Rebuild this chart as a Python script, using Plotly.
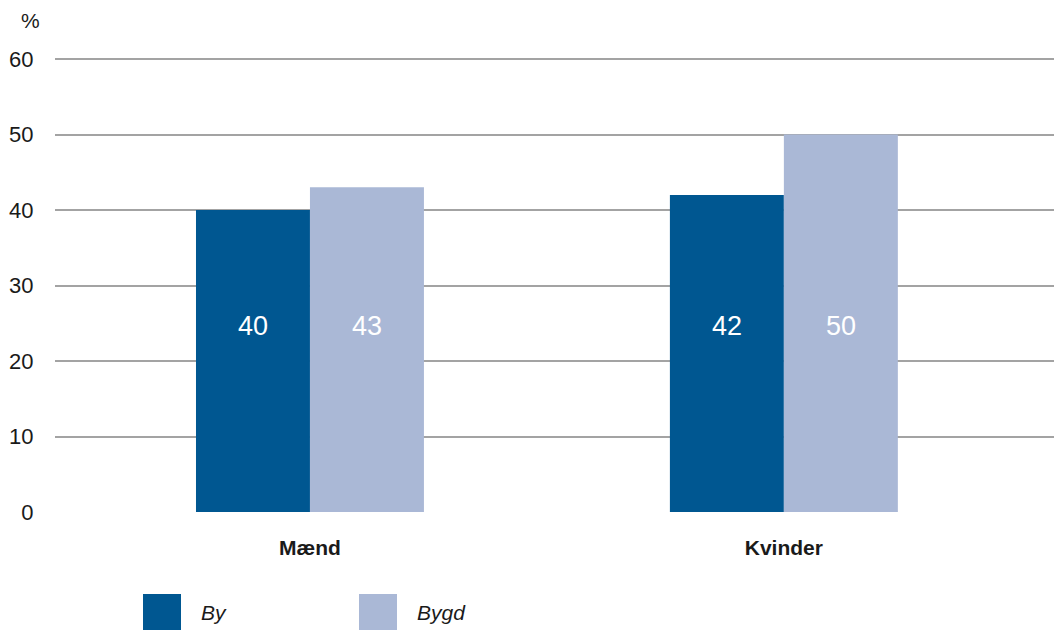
import plotly.graph_objects as go

categories = ["Mænd", "Kvinder"]
series_names = ["By", "Bygd"]
by_values = [40, 42]
bygd_values = [43, 50]
colors = ["#005791", "#aab8d6"]
y_ticks = [0, 10, 20, 30, 40, 50, 60]

FONT = "Liberation Sans, Arial, sans-serif"
TEXT = "#1a1a1a"
LABEL_LEVEL = 24.6  # value-label height inside the bars

# plot area geometry (pixels)
L, R, T, B = 55, 0, 55, 118
W, H = 1054, 630
PW, PH = W - L - R, H - T - B
Y_TOP = 60 * PH / (PH - 4)  # a little headroom so the 60 gridline shows

fig = go.Figure()
for name, vals, col in zip(series_names, [by_values, bygd_values], colors):
    fig.add_trace(go.Bar(
        x=categories, y=vals, name=name, marker_color=col,
        marker_line_width=0, showlegend=False,
    ))

# value labels, all placed at the same height inside each bar
for vals, shift in zip([by_values, bygd_values], [-57, 57]):
    for cat, v in zip(categories, vals):
        fig.add_annotation(
            x=cat, y=LABEL_LEVEL, xshift=shift, text=str(v), showarrow=False,
            font=dict(family=FONT, size=27, color="white"),
        )


def px_x(px):
    return (px - L) / PW


def px_y(py):
    return (H - B - py) / PH


# "%" unit above the axis
fig.add_annotation(
    xref="paper", yref="paper", x=px_x(19), y=px_y(20), text="%",
    showarrow=False, xanchor="left", yanchor="middle",
    font=dict(family=FONT, size=21, color=TEXT),
)

# legend drawn as squares with italic labels
legend_x = [143, 359]
for px, name, col in zip(legend_x, series_names, colors):
    fig.add_shape(
        type="rect", xref="paper", yref="paper",
        x0=px_x(px), x1=px_x(px + 38), y0=px_y(632), y1=px_y(594),
        fillcolor=col, line_width=0,
    )
    fig.add_annotation(
        xref="paper", yref="paper", x=px_x(px + 56), y=px_y(612),
        text=f"<i>{name}</i>", showarrow=False,
        xanchor="left", yanchor="middle",
        font=dict(family=FONT, size=21, color=TEXT),
    )

fig.update_layout(
    width=W, height=H,
    margin=dict(l=L, r=R, t=T, b=B),
    plot_bgcolor="white", paper_bgcolor="white",
    barmode="group", bargap=0.519, bargroupgap=0,
    xaxis=dict(
        range=[-0.538, 1.570], showgrid=False, zeroline=False, showline=False,
        ticks="outside", ticklen=17, tickcolor="rgba(0,0,0,0)",
        tickfont=dict(family=FONT, size=21, color=TEXT, weight="bold"),
    ),
    yaxis=dict(
        range=[0, Y_TOP], tickvals=y_ticks, showgrid=True, gridcolor="#a3a3a3",
        gridwidth=1.5, zeroline=False, showline=False,
        ticks="outside", ticklen=16, tickcolor="rgba(0,0,0,0)",
        tickfont=dict(family=FONT, size=22, color=TEXT),
    ),
)

fig.write_html("out.html")
